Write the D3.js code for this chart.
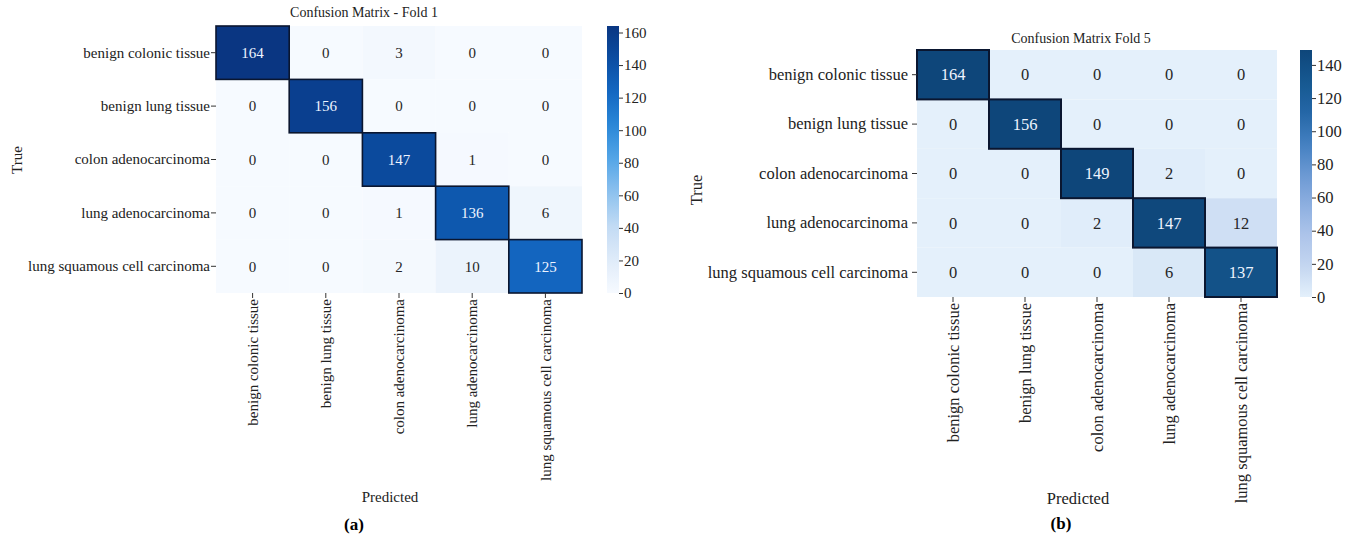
<!DOCTYPE html>
<html>
<head>
<meta charset="utf-8">
<script src="https://cdn.jsdelivr.net/npm/d3@7"></script>
<style>
  html, body { margin: 0; padding: 0; background: #fff; }
  svg { display: block; }
  text { font-family: "Liberation Serif", "Times New Roman", serif; }
</style>
</head>
<body>
<svg id="fig" width="1356" height="537"></svg>
<script>
// Class names shared by both folds (rows = true, columns = predicted)
const classes = [
  "benign colonic tissue",
  "benign lung tissue",
  "colon adenocarcinoma",
  "lung adenocarcinoma",
  "lung squamous cell carcinoma"
];

// Confusion matrix counts, fold 1
const fold1 = [
  [164, 0, 3, 0, 0],
  [0, 156, 0, 0, 0],
  [0, 0, 147, 1, 0],
  [0, 0, 1, 136, 6],
  [0, 0, 2, 10, 125]
];

// Confusion matrix counts, fold 5
const fold5 = [
  [164, 0, 0, 0, 0],
  [0, 156, 0, 0, 0],
  [0, 0, 149, 2, 0],
  [0, 0, 2, 147, 12],
  [0, 0, 0, 6, 137]
];

// Colour bar ranges and ticks
const fold1Max = 164;
const fold5Max = 149;
const fold1Ticks = [0, 20, 40, 60, 80, 100, 120, 140, 160];
const fold5Ticks = [0, 20, 40, 60, 80, 100, 120, 140];

// Colour ramps (evenly spaced stops, light to dark)
const ramp1 = ["#f6faff", "#dfebf9", "#c2dbf4", "#8ec2ee", "#55a6e7", "#2a88d8", "#1468c2", "#0b4ea3", "#0a3682"];
const ramp5 = ["#e4f0fb", "#c3d6f0", "#adc4ea", "#8dafe0", "#6a98d2", "#427fc0", "#2466a6", "#155890", "#0e467a"];

const svg = d3.select("#fig");
const serif = '"Liberation Serif", "Times New Roman", serif';

function drawPanel(opt) {
  const { matrix, vmax, ticks, ramp, box, cb, fs, title, trueLbl, predLbl, tag, xPad, yPad, borderW, gid } = opt;
  const g = svg.append("g");

  const color = d3.scaleSequential(d3.piecewise(d3.interpolateRgb, ramp))
    .domain([0, vmax]).clamp(true);

  const x = d3.scaleBand().domain(d3.range(classes.length)).range([box.x0, box.x1]);
  const y = d3.scaleBand().domain(d3.range(classes.length)).range([box.y0, box.y1]);

  const cells = [];
  matrix.forEach((row, i) => row.forEach((v, j) => cells.push({ i, j, v })));

  // off-diagonal cells first, diagonal (outlined) cells on top
  const ordered = cells.filter(d => d.i !== d.j).concat(cells.filter(d => d.i === d.j));

  g.selectAll("rect.cell").data(ordered).enter().append("rect")
    .attr("class", "cell")
    .attr("x", d => x(d.j))
    .attr("y", d => y(d.i))
    .attr("width", x.bandwidth())
    .attr("height", y.bandwidth())
    .attr("fill", d => color(d.v))
    .attr("stroke", d => d.i === d.j ? "#0a1630" : "none")
    .attr("stroke-width", d => d.i === d.j ? borderW : 0);

  g.selectAll("text.val").data(cells).enter().append("text")
    .attr("class", "val")
    .attr("x", d => x(d.j) + x.bandwidth() / 2)
    .attr("y", d => y(d.i) + y.bandwidth() / 2)
    .attr("dy", "0.35em")
    .attr("text-anchor", "middle")
    .style("font-size", fs + "px")
    .attr("fill", d => d.v / vmax > 0.5 ? "#eef4ff" : "#262626")
    .text(d => d.v);

  // row labels
  const yAxis = d3.axisLeft(y).tickSize(5).tickPadding(yPad).tickFormat(i => classes[i]);
  const ya = g.append("g").attr("transform", `translate(${box.x0},0)`).call(yAxis);
  ya.select(".domain").remove();
  ya.selectAll("text").style("font-size", fs + "px").attr("fill", "#222").style("font-family", serif);
  ya.selectAll("line").attr("stroke", "#333");

  // column labels, rotated
  const xAxis = d3.axisBottom(x).tickSize(5).tickPadding(xPad).tickFormat(i => classes[i]);
  const xa = g.append("g").attr("transform", `translate(0,${box.y1})`).call(xAxis);
  xa.select(".domain").remove();
  xa.selectAll("text")
    .style("font-size", fs + "px").attr("fill", "#222").style("font-family", serif)
    .attr("text-anchor", "end")
    .attr("dy", "0.35em")
    .attr("transform", `translate(0,${5 + xPad}) rotate(-90)`)
    .attr("x", 0).attr("y", 0);
  xa.selectAll("line").attr("stroke", "#333");

  // colour bar
  const defs = svg.append("defs");
  const grad = defs.append("linearGradient").attr("id", gid)
    .attr("x1", 0).attr("y1", 1).attr("x2", 0).attr("y2", 0);
  d3.range(0, 1.0001, 0.05).forEach(t => {
    grad.append("stop").attr("offset", t).attr("stop-color", color(t * vmax));
  });
  g.append("rect")
    .attr("x", cb.x).attr("y", box.y0)
    .attr("width", cb.w).attr("height", box.y1 - box.y0)
    .attr("fill", `url(#${gid})`);

  const cScale = d3.scaleLinear().domain([0, vmax]).range([box.y1, box.y0]);
  const ca = g.append("g").attr("transform", `translate(${cb.x + cb.w},0)`)
    .call(d3.axisRight(cScale).tickValues(ticks).tickSize(4).tickPadding(1));
  ca.select(".domain").remove();
  ca.selectAll("text").style("font-size", fs + "px").attr("fill", "#222").style("font-family", serif);
  ca.selectAll("line").attr("stroke", "#333");

  // titles and axis names
  g.append("text").attr("x", title.x).attr("y", title.y)
    .attr("text-anchor", "middle").style("font-size", title.fs + "px").attr("fill", "#222")
    .text(title.text);
  g.append("text")
    .attr("transform", `translate(${trueLbl.x},${trueLbl.y}) rotate(-90)`)
    .attr("text-anchor", "middle").style("font-size", fs + "px").attr("fill", "#222")
    .text("True");
  g.append("text").attr("x", predLbl.x).attr("y", predLbl.y)
    .attr("text-anchor", "middle").style("font-size", fs + "px").attr("fill", "#222")
    .text("Predicted");
  g.append("text").attr("x", tag.x).attr("y", tag.y)
    .attr("text-anchor", "middle").style("font-size", "17px").style("font-weight", "bold")
    .attr("fill", "#000").text(tag.text);
}

drawPanel({
  matrix: fold1, vmax: fold1Max, ticks: fold1Ticks, ramp: ramp1, gid: "cb1",
  box: { x0: 216, x1: 582, y0: 26, y1: 293 },
  cb: { x: 607, w: 12 }, fs: 15, xPad: 1, yPad: 1, borderW: 1.6,
  title: { x: 364, y: 17, fs: 14, text: "Confusion Matrix - Fold 1" },
  trueLbl: { x: 22, y: 160 },
  predLbl: { x: 390, y: 502 },
  tag: { x: 354, y: 530, text: "(a)" }
});

drawPanel({
  matrix: fold5, vmax: fold5Max, ticks: fold5Ticks, ramp: ramp5, gid: "cb5",
  box: { x0: 917, x1: 1277, y0: 50, y1: 297 },
  cb: { x: 1300, w: 12 }, fs: 16.5, xPad: 1, yPad: 4, borderW: 2,
  title: { x: 1081, y: 43, fs: 14, text: "Confusion Matrix Fold 5" },
  trueLbl: { x: 702, y: 190 },
  predLbl: { x: 1078, y: 504 },
  tag: { x: 1061, y: 529, text: "(b)" }
});
</script>
</body>
</html>
